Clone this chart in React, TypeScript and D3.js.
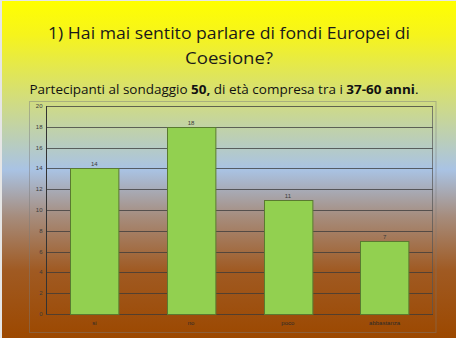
import React from "react";
import * as d3 from "d3";

const categories = ["si", "no", "poco", "abbastanza"];
const values = [14, 18, 11, 7];
const yTicks = [0, 2, 4, 6, 8, 10, 12, 14, 16, 18, 20];
const titleLines = ["1) Hai mai sentito parlare di fondi Europei di", "Coesione?"];

const W = 456;
const H = 338;

export default function App() {
  const x = d3.scaleBand<string>().domain(categories).range([46, 433]).paddingInner(0.5).paddingOuter(0.25);
  const y = d3.scaleLinear().domain([0, 20]).range([314, 106]);
  const font = "'Open Sans', Lato, sans-serif";
  return (
    <svg width={W} height={H} style={{ position: "fixed", left: 0, top: 0 }} xmlns="http://www.w3.org/2000/svg">
      <defs>
        <linearGradient id="bg" x1="0" y1="0" x2="0" y2="1">
          <stop offset="0" stopColor="#ffff00" />
          <stop offset="0.1" stopColor="#f6f41c" />
          <stop offset="0.28" stopColor="#d4de78" />
          <stop offset="0.5" stopColor="#a9c3e4" />
          <stop offset="0.64" stopColor="#a68c7c" />
          <stop offset="0.8" stopColor="#a05a22" />
          <stop offset="1" stopColor="#9c4800" />
        </linearGradient>
      </defs>
      <rect x={0} y={0} width={W} height={H} fill="#e6e6e6" />
      <rect x={2} y={1} width={W - 2} height={H - 1} fill="url(#bg)" />
      {titleLines.map((t, i) => (
        <text
          key={i}
          x={229}
          y={39 + i * 24.5}
          textAnchor="middle"
          fontFamily={font}
          fontSize={15.8}
          fill="#1a1a1a"
          textLength={i === 0 ? 362 : 88}
          lengthAdjust="spacingAndGlyphs"
          style={{ fontVariantLigatures: "none" }}
        >
          {t}
        </text>
      ))}
      <text
        x={29.5}
        y={94}
        fontFamily={font}
        fontSize={12}
        fill="#111"
        textLength={389}
        lengthAdjust="spacingAndGlyphs"
        style={{ fontVariantLigatures: "none" }}
      >
        <tspan>Partecipanti al sondaggio </tspan>
        <tspan fontWeight="bold">50,</tspan>
        <tspan> di età compresa tra i </tspan>
        <tspan fontWeight="bold">37-60 anni</tspan>
        <tspan>.</tspan>
      </text>
      <rect x={29.5} y={101.5} width={406.5} height={231} fill="none" stroke="#7a7a7a" strokeOpacity={0.45} strokeWidth={1} />
      {yTicks.map((t) => (
        <g key={t}>
          <line x1={46} x2={433} y1={Math.round(y(t)) + 0.5} y2={Math.round(y(t)) + 0.5} stroke="#3a3a3a" strokeOpacity={0.75} strokeWidth={1} />
          <text x={42.5} y={y(t) + 2} textAnchor="end" fontFamily="'Liberation Sans', Arial, sans-serif" fontSize={6} fill="#3a3a3a">
            {t}
          </text>
        </g>
      ))}
      <line x1={46.5} x2={46.5} y1={106} y2={314} stroke="#333" strokeWidth={1} />
      <line x1={432.5} x2={432.5} y1={106} y2={314} stroke="#555" strokeOpacity={0.7} strokeWidth={1} />
      {categories.map((c, i) => (
        <g key={c}>
          <rect
            x={Math.round(x(c)!) + 0.5}
            y={Math.round(y(values[i])) + 0.5}
            width={x.bandwidth()}
            height={y(0) - Math.round(y(values[i]))}
            fill="#92d050"
            stroke="#5a7a30"
            strokeWidth={1}
          />
          <text
            x={x(c)! + x.bandwidth() / 2}
            y={y(values[i]) - 2}
            textAnchor="middle"
            fontFamily="'Liberation Sans', Arial, sans-serif"
            fontSize={6}
            fill="#3a3a3a"
          >
            {values[i]}
          </text>
          <text
            x={x(c)! + x.bandwidth() / 2}
            y={325}
            textAnchor="middle"
            fontFamily="'Liberation Sans', Arial, sans-serif"
            fontSize={6}
            fill="#2a2a2a"
          >
            {c}
          </text>
        </g>
      ))}
    </svg>
  );
}
